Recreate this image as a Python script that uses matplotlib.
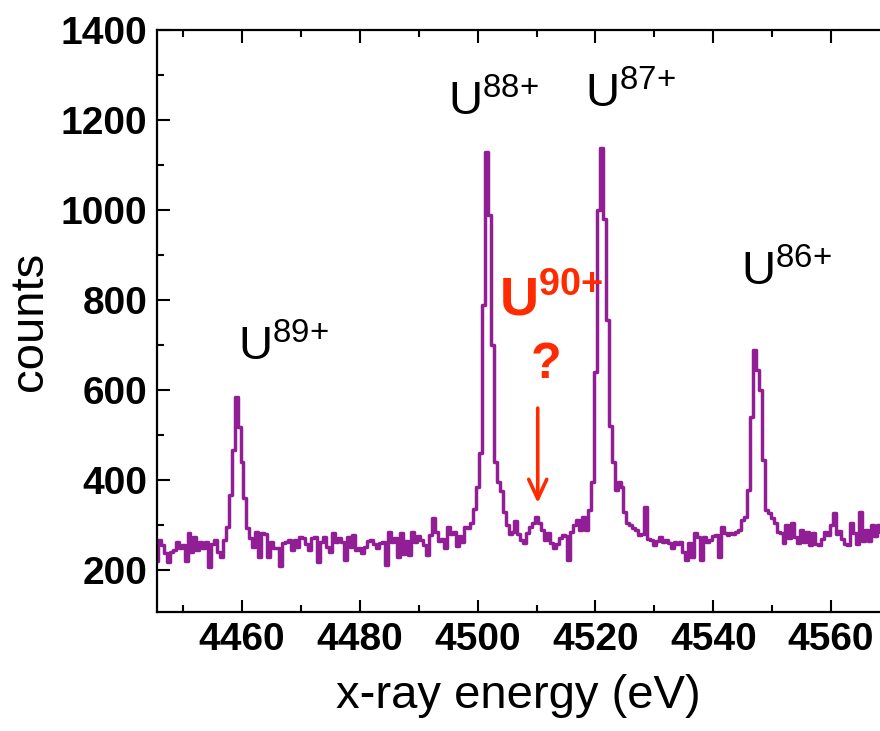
import numpy as np
import matplotlib
matplotlib.use("Agg")
import matplotlib.pyplot as plt

# spectrum: counts per 0.5 eV bin, first bin centred at 4445.5 eV
bin_start = 4445.5
bin_width = 0.5
counts = [
    220, 267, 256, 238, 218, 240, 244, 262, 249, 256, 220, 282, 240, 273, 244, 262, 249, 262, 207, 258,
    267, 240, 229, 268, 296, 367, 467, 585, 518, 440, 360, 293, 271, 251, 284, 229, 282, 280, 229, 262,
    249, 249, 210, 260, 262, 268, 244, 267, 251, 273, 271, 258, 244, 271, 273, 218, 262, 273, 252, 240,
    282, 262, 271, 262, 222, 273, 251, 278, 244, 249, 238, 251, 265, 268, 258, 249, 260, 262, 211, 284,
    262, 271, 229, 282, 235, 265, 233, 284, 262, 276, 267, 255, 233, 278, 316, 285, 264, 270, 249, 296,
    280, 285, 253, 275, 262, 296, 293, 305, 335, 385, 460, 790, 1128, 990, 700, 440, 395, 375, 330, 300,
    280, 285, 310, 280, 267, 260, 282, 296, 304, 318, 305, 289, 267, 282, 260, 249, 258, 271, 278, 275,
    222, 285, 300, 311, 290, 318, 289, 333, 396, 640, 1000, 1138, 980, 756, 520, 440, 378, 396, 385, 330,
    305, 300, 293, 290, 278, 280, 340, 270, 267, 255, 265, 273, 262, 267, 260, 249, 262, 258, 262, 240,
    222, 260, 229, 282, 273, 222, 273, 262, 267, 275, 278, 229, 296, 282, 278, 282, 280, 284, 289, 311,
    318, 378, 540, 689, 644, 600, 444, 333, 327, 316, 304, 284, 282, 260, 300, 271, 304, 273, 260, 289,
    262, 285, 256, 282, 258, 256, 270, 285, 278, 300, 327, 280, 286, 270, 258, 256, 304, 282, 258, 329,
    265, 290, 265, 300, 275, 300, 285, 290,
]
energy = bin_start + bin_width * np.arange(len(counts))

# ion labels: (text, x, y)
ion_labels = [
    (r"U$^{89{+}}$", 4459.3, 667),
    (r"U$^{88{+}}$", 4494.9, 1211),
    (r"U$^{87{+}}$", 4518.2, 1227),
    (r"U$^{86{+}}$", 4544.7, 833),
]

purple = "#911E94"
red = "#FF2A00"

plt.rcParams["font.family"] = ["Liberation Sans", "DejaVu Sans"]
plt.rcParams["mathtext.fontset"] = "custom"
plt.rcParams["mathtext.rm"] = "Liberation Sans"
plt.rcParams["mathtext.bf"] = "Liberation Sans:bold"

fig = plt.figure(figsize=(8.8, 7.31), dpi=100)
ax = fig.add_axes([157 / 880, 1 - 612 / 731, (880 - 157) / 880, (612 - 30) / 731])

ax.step(energy, counts, where="mid", color=purple, lw=2.5)

ax.set_xlim(4445.57, 4568.3)
ax.set_ylim(107, 1400)
ax.set_xticks(np.arange(4460, 4561, 20))
ax.set_xticks(np.arange(4450, 4569, 10), minor=True)
ax.set_yticks(np.arange(200, 1401, 200))
ax.set_yticks(np.arange(200, 1401, 100), minor=True)

for s in ["left", "bottom", "top"]:
    ax.spines[s].set_linewidth(1.6)
ax.spines["right"].set_visible(False)
ax.tick_params(which="both", direction="in", top=True, right=False, width=1.5)
ax.tick_params(which="major", length=9, labelsize=28, pad=7)
ax.tick_params(which="minor", length=5)
for lab in ax.get_xticklabels() + ax.get_yticklabels():
    lab.set_fontweight("bold")

ax.set_xlabel("x-ray energy (eV)", fontsize=34, labelpad=12)
ax.set_ylabel("counts", fontsize=34, labelpad=6)

for txt, x, y in ion_labels:
    ax.text(x, y, txt, fontsize=34, ha="left", va="baseline", color="black")

ax.text(4503.6, 767, r"U$^{\mathbf{90{+}}}$", fontsize=39, fontweight="bold",
        color=red, ha="left", va="baseline")
ax.text(4511.6, 627, "?", fontsize=36, fontweight="bold", color=red,
        ha="center", va="baseline")
ax.annotate("", xy=(4510.2, 349), xytext=(4510.2, 560),
            arrowprops=dict(arrowstyle="->,head_length=1.4,head_width=0.65",
                            color=red, lw=2.6, shrinkA=0, shrinkB=0))

fig.savefig("out.png", dpi=100)
